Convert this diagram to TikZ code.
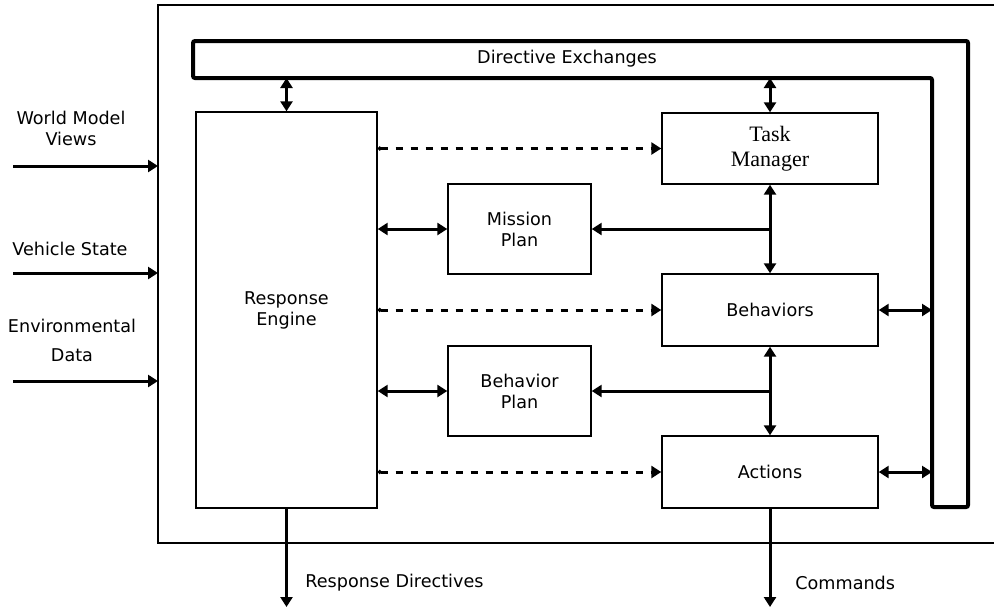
\documentclass[tikz,border=0pt]{standalone}
\usepackage{fontspec}
\setmainfont{DejaVu Sans}
\newfontfamily\nyfont{Liberation Serif}
\usetikzlibrary{arrows.meta}

\tikzset{
	blk/.style={draw, line width=0.7pt, font=\fontsize{8.8}{10.5}\selectfont, align=center, inner sep=0pt},
	lbl/.style={font=\fontsize{8.8}{10.5}\selectfont, align=center, inner sep=0pt},
	flow/.style={line width=1.5pt, -{Triangle[length=5pt,width=6pt]}},
	both/.style={line width=1.5pt, {Triangle[length=5pt,width=6pt]}-{Triangle[length=5pt,width=6pt]}},
	hint/.style={line width=1.5pt, dash pattern=on 3.5pt off 4pt, {Circle[length=2pt]}-{Triangle[length=5pt,width=6pt]}},
}

\begin{document}
\begin{tikzpicture}[x=0.5pt, y=-0.5pt]
	\useasboundingbox (0,0) rectangle (994,611);
	\coordinate (frameNW) at (158,5);
	\coordinate (frameSW) at (158,543);
	\coordinate (busL) at (193,78);
	\coordinate (busR) at (932,78);
	\coordinate (outs) at (0,607);
	\draw[line width=0.8pt] (994,5) -- (frameNW) -- (frameSW) -- (994,543);
	%% directive exchanges bus
	\draw[line width=2pt, rounded corners=1pt] (193,41) -- (968,41) -- (968,507) -- (932,507) -- (busR) -- (busL) -- cycle;
	\node[lbl] (busname) at (567,59) {Directive Exchanges};

	\node[blk, minimum width=90.5pt, minimum height=198pt] (engine) at (286.5,310) {Response\\Engine};
	\node[blk, minimum width=71.5pt, minimum height=45pt] (mission) at (519.5,229) {Mission\\Plan};
	\node[blk, minimum width=71.5pt, minimum height=45pt] (bplan) at (519.5,391) {Behavior\\Plan};
	\node[blk, minimum width=108pt, minimum height=35.5pt, font=\nyfont\fontsize{11}{12.5}\selectfont] (task) at (770,148.5) {Task\\Manager};
	\node[blk, minimum width=108pt, minimum height=36pt] (behav) at (770,310) {Behaviors};
	\node[blk, minimum width=108pt, minimum height=36pt] (actions) at (770,472) {Actions};

	%% inputs
	\coordinate (wmv) at (13,166);
	\coordinate (vst) at (13,273);
	\coordinate (env) at (13,381);
	\node[lbl] (wmvlabel) at (71,128) {World Model\\Views};
	\node[lbl] (vstlabel) at (70,249) {Vehicle State};
	\node[lbl] (envlabel) at (72,340) {Environmental\\[4pt]Data};
	\draw[flow] (wmv) -- (wmv -| frameNW);
	\draw[flow] (vst) -- (vst -| frameNW);
	\draw[flow] (env) -- (env -| frameNW);

	\draw[both] (engine.north |- busL) -- (engine.north);
	\draw[both] (task.north |- busL) -- (task.north);
	\draw[hint] (engine.east |- task.west) -- (task.west);
	\draw[hint] (engine.east |- behav.west) -- (behav.west);
	\draw[hint] (engine.east |- actions.west) -- (actions.west);
	\draw[both] (engine.east |- mission.west) -- (mission.west);
	\draw[both] (engine.east |- bplan.west) -- (bplan.west);
	\draw[both] (task.south) -- (behav.north);
	\draw[flow] (task.south |- mission.east) -- (mission.east);
	\draw[both] (behav.south) -- (actions.north);
	\draw[flow] (behav.south |- bplan.east) -- (bplan.east);
	\draw[both] (behav.east) -- (behav.east -| busR);
	\draw[both] (actions.east) -- (actions.east -| busR);

	%% outputs
	\draw[flow] (engine.south) -- (engine.south |- outs);
	\draw[flow] (actions.south) -- (actions.south |- outs);
	\node[lbl, anchor=west] (rdlabel) at (305,583) {Response Directives};
	\node[lbl, anchor=west] (cmdlabel) at (795,583) {Commands};
\end{tikzpicture}
\end{document}
